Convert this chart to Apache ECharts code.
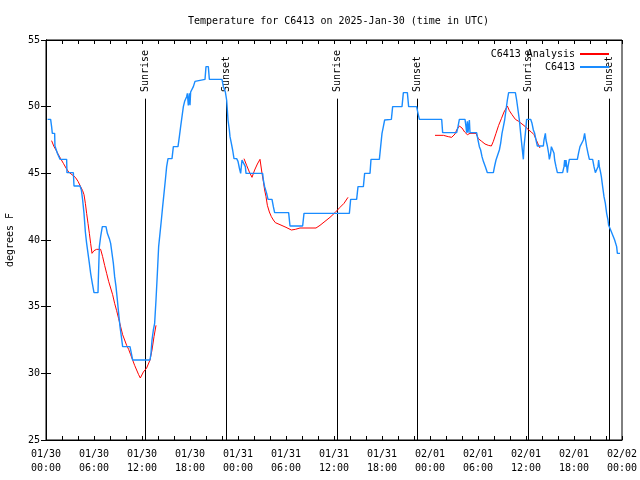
<!DOCTYPE html>
<html>
<head>
<meta charset="utf-8">
<script src="https://cdn.jsdelivr.net/npm/echarts@6/dist/echarts.min.js"></script>
<style>html,body{margin:0;padding:0;background:#fff}#c{width:640px;height:480px}</style>
</head>
<body>
<div id="c"></div>
<script>
// ---- data (hours since 2025-01-30 00:00 UTC, degrees F) ----
var xDateLabels = ['01/30','01/30','01/30','01/30','01/31','01/31','01/31','01/31','02/01','02/01','02/01','02/01','02/02'];
var xTimeLabels = ['00:00','06:00','12:00','18:00','00:00','06:00','12:00','18:00','00:00','06:00','12:00','18:00','00:00'];
var yTicks = [25,30,35,40,45,50,55];

var sunTimes = [12.43, 22.55, 36.42, 46.42, 60.3, 70.42];
var sunNames = ['Sunrise','Sunset','Sunrise','Sunset','Sunrise','Sunset'];

var obsC6413 = [
[0.2,49.05],[0.58,49.05],[0.7,48.5],[0.79,48.0],[1.08,48.0],[1.12,47.05],[1.25,47.05],[1.42,46.5],[1.75,46.05],[2.58,46.05],[2.62,45.05],[3.42,45.05],[3.5,44.05],[4.25,44.05],[4.42,43.75],[4.58,43.0],[4.75,42.0],[4.92,40.6],[5.08,39.75],[5.25,39.0],[5.42,38.25],[5.58,37.5],[5.79,36.75],[6.0,36.05],[6.5,36.05],[6.54,37.0],[6.67,39.5],[6.83,40.25],[7.04,41.0],[7.5,41.0],[7.67,40.5],[7.92,40.1],[8.08,39.75],[8.25,39.0],[8.42,38.25],[8.58,37.25],[8.75,36.5],[8.92,35.5],[9.08,34.5],[9.25,33.5],[9.42,32.75],[9.58,32.0],[10.5,32.0],[10.67,31.5],[10.83,31.0],[13.0,31.0],
[13.125,31.5],[13.25,32.5],[13.42,33.25],[13.58,33.75],[13.75,35.5],[13.92,37.5],[14.08,39.5],[14.25,40.5],[14.42,41.5],[14.58,42.5],[14.75,43.5],[14.92,44.5],[15.08,45.5],[15.25,46.1],[15.75,46.1],[15.92,47.0],[16.5,47.0],[16.67,47.75],[16.83,48.5],[17.0,49.25],[17.17,50.0],[17.33,50.4],[17.58,50.75],[17.67,51.0],[17.79,50.1],[17.92,51.0],[18.0,50.1],[18.08,51.1],[18.42,51.5],[18.625,51.9],[18.83,52.05],[19.875,52.05],[20.0,53.0],[20.29,53.0],[20.42,52.05],[22.0,52.05],[22.17,51.5],[22.42,51.1],[22.58,50.5],[22.67,49.75],[22.75,49.0],[22.92,48.25],[23.0,47.75],[23.17,47.25],[23.33,46.75],[23.5,46.1],[23.83,46.1],[24.0,45.9],[24.17,45.4],[24.33,45.0],[24.5,46.0],[24.75,46.0],[24.92,45.5],[25.0,45.0],[27.08,45.0],[27.17,44.5],[27.33,44.0],[27.5,44.0],[27.58,43.5],[27.75,43.05],[28.25,43.05],[28.42,42.5],[28.58,42.05],[30.33,42.05],[30.5,41.05],[32.08,41.05],[32.25,42.0],[37.92,42.0],[38.08,43.05],[38.83,43.05],[39.0,44.0],[39.67,44.0],[39.83,45.0],[40.5,45.0],[40.625,46.05],[41.67,46.05],[41.83,47.0],[42.0,48.0],[42.17,48.5],[42.33,49.0],[42.58,49.05],[43.17,49.05],[43.33,50.0],[44.5,50.0],[44.67,51.05],[45.17,51.05],[45.33,50.0],[46.33,50.0],[46.5,49.5],[46.67,49.05],[49.46,49.05],[49.58,48.05],[51.33,48.05],[51.5,48.5],[51.67,49.05],[52.375,49.05],[52.5,48.5],[52.58,48.05],[52.67,48.9],[52.75,48.05],[52.92,49.0],[53.0,48.05],[53.83,48.05],[54.0,47.5],[54.17,47.0],[54.33,46.75],[54.5,46.25],[54.67,45.9],[54.92,45.5],[55.17,45.05],[55.92,45.05],[56.08,45.55],[56.25,46.0],[56.5,46.05],[56.67,46.75],[56.83,47.25],[57.0,48.0],[57.17,48.5],[57.33,49.0],[57.5,49.75],[57.67,50.5],[57.83,51.05],[58.67,51.05],[58.83,50.5],[59.0,49.75],[59.17,49.0],[59.33,48.0],[59.5,47.0],[59.67,46.05],[59.75,47.0],[59.92,48.0],[60.08,49.05],[60.58,49.05],[60.75,48.75],[60.92,48.25],[61.08,48.0],[61.25,47.5],[61.42,47.05],[62.17,47.05],[62.25,47.5],[62.42,48.0],[62.5,47.5],[62.67,47.05],[62.83,46.5],[62.92,46.05],[63.08,46.5],[63.17,47.0],[63.33,47.0],[63.5,46.5],[63.58,46.0],[63.75,45.5],[63.92,45.05],[64.58,45.05],[64.75,45.5],[64.83,46.0],[64.92,45.5],[65.0,46.0],[65.17,45.05],[65.25,45.5],[65.42,46.05],[66.42,46.05],[66.58,46.55],[66.75,47.0],[67.0,47.0],[67.17,47.5],[67.33,48.0],[67.42,47.6],[67.58,47.0],[67.75,46.5],[67.92,46.05],[68.33,46.05],[68.5,45.5],[68.67,45.05],[68.92,45.05],[69.0,45.5],[69.08,46.0],[69.17,45.5],[69.33,45.05],[69.42,44.75],[69.58,44.0],[69.75,43.25],[69.92,42.75],[70.08,42.0],[70.25,41.5],[70.33,41.1],[70.5,41.1],[70.58,40.75],[70.75,40.75],[70.92,40.25],[71.08,40.0],[71.25,40.0],[71.33,39.5],[71.42,39.0],[71.75,39.0]
];

var analysisSeg1 = [
[0.7,47.45],[1.0,47.0],[1.25,46.75],[1.5,46.45],[1.83,46.1],[2.17,45.75],[2.5,45.4],[2.83,45.1],[3.25,44.9],[3.67,44.7],[4.0,44.4],[4.33,44.0],[4.58,43.7],[4.75,43.4],[4.92,42.75],[5.08,42.0],[5.25,41.25],[5.42,40.5],[5.58,39.75],[5.75,39.0],[6.0,39.2],[6.33,39.3],[6.58,39.4],[6.83,39.3],[7.08,38.75],[7.33,38.1],[7.58,37.5],[7.83,36.9],[8.08,36.4],[8.33,35.9],[8.58,35.25],[8.83,34.7],[9.08,34.1],[9.33,33.5],[9.58,32.9],[9.83,32.5],[10.08,32.1],[10.33,31.8],[10.58,31.4],[10.83,31.0],[11.08,30.6],[11.33,30.25],[11.58,29.9],[11.79,29.65],[12.17,30.1],[12.58,30.4],[13.0,31.0],[13.25,31.75],[13.5,32.75],[13.75,33.6]
];
var analysisSeg2 = [
[24.75,46.1],[25.08,45.6],[25.42,45.1],[25.75,44.7],[26.08,45.25],[26.42,45.7],[26.75,46.05],[27.0,45.0],[27.17,44.4],[27.33,43.75],[27.5,43.25],[27.67,42.6],[27.92,42.1],[28.17,41.75],[28.42,41.5],[28.67,41.3],[29.25,41.15],[30.0,40.95],[30.67,40.75],[31.17,40.8],[31.75,40.9],[33.75,40.9],[34.25,41.1],[34.875,41.4],[35.5,41.7],[36.125,42.05],[36.75,42.45],[37.25,42.75],[37.75,43.2]
];
var analysisSeg3 = [
[48.625,47.85],[49.67,47.85],[50.29,47.75],[50.71,47.7],[51.125,47.95],[51.33,48.25],[51.67,48.55],[52.0,48.4],[52.33,48.1],[52.67,47.9],[53.0,48.0],[53.75,48.0],[54.04,47.6],[54.46,47.4],[54.875,47.2],[55.29,47.1],[55.67,47.05],[55.92,47.4],[56.25,48.0],[56.58,48.6],[56.92,49.1],[57.25,49.6],[57.67,50.05],[57.92,49.7],[58.25,49.4],[58.67,49.05],[59.08,48.9],[59.5,48.7],[59.92,48.5],[60.33,48.25],[60.67,48.1],[61.0,47.9],[61.25,47.55],[61.58,47.1],[61.75,46.9]
];

// ---- build ----
var FONT = '"DejaVu Sans Mono", "Liberation Mono", monospace';
var analysisData = analysisSeg1.concat([[20, '-']], analysisSeg2, [[43, '-']], analysisSeg3);
var SUN_LINE_TOP = 50.6, SUN_LABEL_BASE = 51.1;
var sunData = sunTimes.map(function (t) { return [t, SUN_LINE_TOP, SUN_LABEL_BASE]; });

var chart = echarts.init(document.getElementById('c'), null, {renderer: 'canvas'});
var xTickAxis = {
  type: 'value', min: 0, max: 72, interval: 2,
  axisLine: {show: true, lineStyle: {color: '#000', width: 1}},
  axisTick: {show: true, inside: true, length: 4, lineStyle: {color: '#000'}},
  splitLine: {show: false}
};
option = {
  animation: false,
  backgroundColor: '#fff',
  title: {
    text: 'Temperature for C6413 on 2025-Jan-30 (time in UTC)',
    left: 183, top: 11,
    textStyle: {fontFamily: FONT, fontSize: 10, fontWeight: 'normal', color: '#000'}
  },
  legend: {
    orient: 'vertical', right: 26, top: 43, align: 'right',
    itemWidth: 29, itemHeight: 2, itemGap: 1, icon: 'rect',
    textStyle: {fontFamily: FONT, fontSize: 10, color: '#000', lineHeight: 12},
    data: ['C6413 Analysis', 'C6413']
  },
  grid: {left: 46, right: 18, top: 40, bottom: 40, containLabel: false, outerBoundsMode: 'none',
         show: true, borderColor: '#000', borderWidth: 1, backgroundColor: 'transparent'},
  xAxis: [
    Object.assign({}, xTickAxis, {
      position: 'bottom',
      axisLabel: {
        show: true, margin: 7, color: '#000', fontFamily: FONT, fontSize: 10, lineHeight: 14,
        formatter: function (v) {
          if (v % 6 !== 0) return '';
          var i = v / 6;
          return xDateLabels[i] + '\n' + xTimeLabels[i];
        }
      }
    }),
    Object.assign({}, xTickAxis, {position: 'top', axisLabel: {show: false}})
  ],
  yAxis: [
    {
      type: 'value', min: yTicks[0], max: yTicks[yTicks.length - 1], interval: 5, position: 'left',
      name: 'degrees F', nameLocation: 'middle', nameGap: 31,
      nameTextStyle: {fontFamily: FONT, fontSize: 10, color: '#000'},
      axisLine: {show: true, lineStyle: {color: '#000'}},
      axisTick: {show: true, inside: true, length: 5, lineStyle: {color: '#000'}},
      axisLabel: {margin: 6, color: '#000', fontFamily: FONT, fontSize: 10},
      splitLine: {show: false}
    },
    {
      type: 'value', min: yTicks[0], max: yTicks[yTicks.length - 1], interval: 5, position: 'right',
      axisLine: {show: true, lineStyle: {color: '#000'}},
      axisTick: {show: true, inside: true, length: 5, lineStyle: {color: '#000'}},
      axisLabel: {show: false}, splitLine: {show: false}
    }
  ],
  series: [
    {
      name: 'sun', type: 'custom', xAxisIndex: 0, yAxisIndex: 0, z: 1,
      data: sunData, silent: true,
      renderItem: function (params, api) {
        var t = api.value(0);
        var top = api.coord([t, api.value(1)]);
        var bot = api.coord([t, 25]);
        var lab = api.coord([t, api.value(2)]);
        var x = Math.round(top[0]) + 0.5;
        return {
          type: 'group',
          children: [
            {type: 'line', shape: {x1: x, y1: top[1], x2: x, y2: bot[1]}, style: {stroke: '#000', lineWidth: 1}},
            {type: 'text', x: lab[0], y: lab[1], rotation: Math.PI / 2,
             style: {text: sunNames[params.dataIndex], fill: '#000', font: '10px ' + FONT, align: 'left', verticalAlign: 'middle'}}
          ]
        };
      }
    },
    {
      name: 'C6413 Analysis', type: 'line', data: analysisData, symbol: 'none', showSymbol: false,
      connectNulls: false, z: 2,
      lineStyle: {color: '#ff0000', width: 1}, itemStyle: {color: '#ff0000'}
    },
    {
      name: 'C6413', type: 'line', data: obsC6413, symbol: 'none', showSymbol: false, z: 3,
      lineStyle: {color: '#1a8cff', width: 1.4}, itemStyle: {color: '#1a8cff'}
    }
  ]
};
chart.setOption(option);
</script>
</body>
</html>
